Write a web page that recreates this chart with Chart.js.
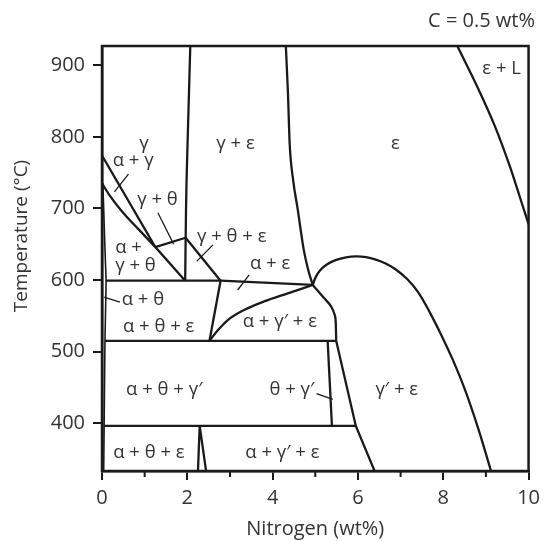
<!DOCTYPE html>
<html><head><meta charset="utf-8">
<script src="https://cdn.jsdelivr.net/npm/chart.js@4.4.0/dist/chart.umd.min.js"></script>
<style>html,body{margin:0;padding:0;background:#fff}#wrap{width:546px;height:541px}</style>
</head><body><div id="wrap"><canvas id="c" width="546" height="541"></canvas></div>
<script>
// ---- axis ticks ----
const xMajorTicks = [0, 2, 4, 6, 8, 10];
const xMinorTicks = [1, 3, 5, 7, 9];
const yTicks = [400, 500, 600, 700, 800, 900];

// ---- phase boundaries: [N wt%, T °C] ----
const gammaToGammaEps   = [[2.07,927],[2.01,800],[1.97,700],[1.95,599]];
const gammaEpsToEps     = [[4.31,927],[4.36,860],[4.40,790],[4.48,740],[4.59,698],[4.73,642],[4.83,615],[4.94,593]];
const epsToEpsL         = [[8.33,927],[8.79,871],[9.21,815],[9.56,759],[9.79,717],[10,678]];
const gammaToAlphaGamma = [[0,774],[1.25,646],[1.95,599]];
const alphaGammaLower   = [[0,735],[0.17,719],[0.48,695],[0.87,670],[1.25,646]];
const gammaThetaTop     = [[1.25,646],[1.96,659]];
const gteDiagonal       = [[1.96,659],[2.78,599]];
const line600           = [[0.09,599],[2.78,599],[4.94,593]];
const aeLeftEdge        = [[2.78,599],[2.52,515]];
const aeLowerCurve      = [[2.52,515],[2.72,530],[2.95,544],[3.33,558],[3.80,570],[4.34,581],[4.94,593]];
const ageRightEdge      = [[4.94,593],[5.2,575],[5.37,563],[5.45,552],[5.48,540],[5.49,515]];
const line515           = [[0.07,515],[5.49,515]];
const thetaGpEdge       = [[5.29,515],[5.39,396]];
const gpEdge            = [[5.49,515],[5.95,396],[6.39,333]];
const line395           = [[0.05,396],[5.95,396]];
const wedge             = [[2.25,333],[2.29,396],[2.44,333]];
const dome              = [[4.94,593],[5.01,604],[5.12,614],[5.28,622],[5.49,628],[5.72,631.5],[5.95,633],[6.19,632],[6.42,628.5],[6.65,623],[6.88,615],[7.16,601],[7.41,583],[7.70,553],[7.97,521],[8.22,489],[8.5,448],[8.8,396],[9.12,333]];
const alphaThetaEdge    = [[0.02,735],[0.05,680],[0.08,625],[0.095,599],[0.07,515],[0.05,396],[0.04,333]];

// ---- leader lines ----
const ptrAlphaGamma = [[0.62,748],[0.29,723]];
const ptrGammaTheta = [[1.31,694],[1.68,650]];
const ptrGTE        = [[2.60,649],[2.22,626]];
const ptrAlphaTheta = [[0.42,569],[0.05,576]];
const ptrAlphaEps   = [[3.45,607],[3.18,586]];
const ptrThetaGp    = [[5.03,441],[5.41,433]];

// ---- region labels ----
const regionLabels = [
  {t:'γ', x:0.985, y:791},
  {t:'γ + ε', x:3.13, y:791},
  {t:'ε', x:6.88, y:791},
  {t:'ε + L', x:9.37, y:895},
  {t:'α + γ', x:0.73, y:766},
  {t:'γ + θ', x:1.30, y:712},
  {t:'γ + θ + ε', x:3.04, y:661},
  {t:'α +', x:0.31, y:645, align:'left'},
  {t:'γ + θ', x:0.31, y:620, align:'left'},
  {t:'α + θ', x:0.96, y:572},
  {t:'α + ε', x:3.94, y:622},
  {t:'α + θ + ε', x:1.33, y:534},
  {t:'α + γ′ + ε', x:4.17, y:542},
  {t:'α + θ + γ′', x:1.46, y:446},
  {t:'θ + γ′', x:4.45, y:446},
  {t:'γ′ + ε', x:6.91, y:446},
  {t:'α + θ + ε', x:1.10, y:359},
  {t:'α + γ′ + ε', x:4.23, y:359}
];

const LINE = '#1a1a1a';
const TEXT = '#333333';
const FONT = "'Open Sans', 'DejaVu Sans', sans-serif";

function ds(arr, mode, width) {
  const d = {
    data: arr.map(p => ({x: p[0], y: p[1]})),
    showLine: true, borderColor: LINE, borderWidth: width || 2.3,
    pointRadius: 0, tension: 0, fill: false
  };
  if (mode === 'smooth') d.cubicInterpolationMode = 'monotone';
  else if (typeof mode === 'number') d.tension = mode;
  return d;
}

const datasets = [
  ds(gammaToGammaEps, 'smooth'),
  ds(gammaEpsToEps, 'smooth'),
  ds(epsToEpsL, 'smooth'),
  ds(gammaToAlphaGamma),
  ds(alphaGammaLower, 'smooth'),
  ds(gammaThetaTop),
  ds(gteDiagonal),
  ds(line600),
  ds(aeLeftEdge),
  ds(aeLowerCurve, 'smooth'),
  ds(ageRightEdge, 'smooth'),
  ds(line515),
  ds(thetaGpEdge),
  ds(gpEdge),
  ds(line395),
  ds(wedge),
  ds(dome, 0.4),
  ds(alphaThetaEdge, 0.3, 1.6),
  ds(ptrAlphaGamma, 0, 1.3),
  ds(ptrGammaTheta, 0, 1.3),
  ds(ptrGTE, 0, 1.3),
  ds(ptrAlphaTheta, 0, 1.3),
  ds(ptrAlphaEps, 0, 1.3),
  ds(ptrThetaGp, 0, 1.3)
];

const overlay = {
  id: 'overlay',
  afterDatasetsDraw(chart) {
    const {ctx, chartArea: a, scales: {x, y}} = chart;
    ctx.save();
    ctx.strokeStyle = LINE;
    ctx.lineWidth = 2.5;
    ctx.strokeRect(a.left, a.top, a.right - a.left, a.bottom - a.top);
    ctx.lineWidth = 2;
    xMinorTicks.forEach(v => {
      const px = x.getPixelForValue(v);
      ctx.beginPath(); ctx.moveTo(px, a.bottom); ctx.lineTo(px, a.bottom + 6); ctx.stroke();
    });
    ctx.fillStyle = TEXT;
    ctx.font = '18.5px ' + FONT;
    ctx.textBaseline = 'middle';
    regionLabels.forEach(l => {
      ctx.textAlign = l.align || 'center';
      ctx.fillText(l.t, x.getPixelForValue(l.x), y.getPixelForValue(l.y));
    });
    ctx.translate(22, 236);
    ctx.rotate(-Math.PI / 2);
    ctx.textAlign = 'center';
    ctx.font = '19px ' + FONT;
    ctx.fillText('Temperature (°C)', 0, 0);
    ctx.restore();
  }
};

new Chart(document.getElementById('c'), {
  type: 'scatter',
  data: {datasets},
  plugins: [overlay],
  options: {
    responsive: false, animation: false, devicePixelRatio: 1,
    layout: {padding: {left: 0, right: 11, top: 0, bottom: 0}, autoPadding: false},
    plugins: {
      legend: {display: false}, tooltip: {enabled: false},
      title: {display: true, text: 'C = 0.5 wt%', align: 'end', color: TEXT,
              font: {family: FONT, size: 20, weight: 'normal'}, padding: {top: 9, bottom: 13}}
    },
    scales: {
      x: {
        type: 'linear', min: 0, max: 10,
        afterBuildTicks: s => { s.ticks = xMajorTicks.map(v => ({value: v})); },
        afterFit: s => { s.height = 70; },
        ticks: {color: TEXT, font: {family: FONT, size: 20}, padding: 6, maxRotation: 0},
        grid: {display: true, drawOnChartArea: false, drawTicks: true, tickLength: 9, color: LINE, lineWidth: 2},
        border: {display: true, color: LINE, width: 2.5},
        title: {display: true, text: 'Nitrogen (wt%)', color: TEXT, font: {family: FONT, size: 20}, padding: {top: 0, bottom: 0}}
      },
      y: {
        type: 'linear', min: 333, max: 927,
        afterBuildTicks: s => { s.ticks = yTicks.map(v => ({value: v})); },
        afterFit: s => { s.width = 102; },
        ticks: {color: TEXT, font: {family: FONT, size: 20}, padding: 8},
        grid: {display: true, drawOnChartArea: false, drawTicks: true, tickLength: 9, color: LINE, lineWidth: 2},
        border: {display: true, color: LINE, width: 2.5}
      }
    }
  }
});
</script></body></html>
